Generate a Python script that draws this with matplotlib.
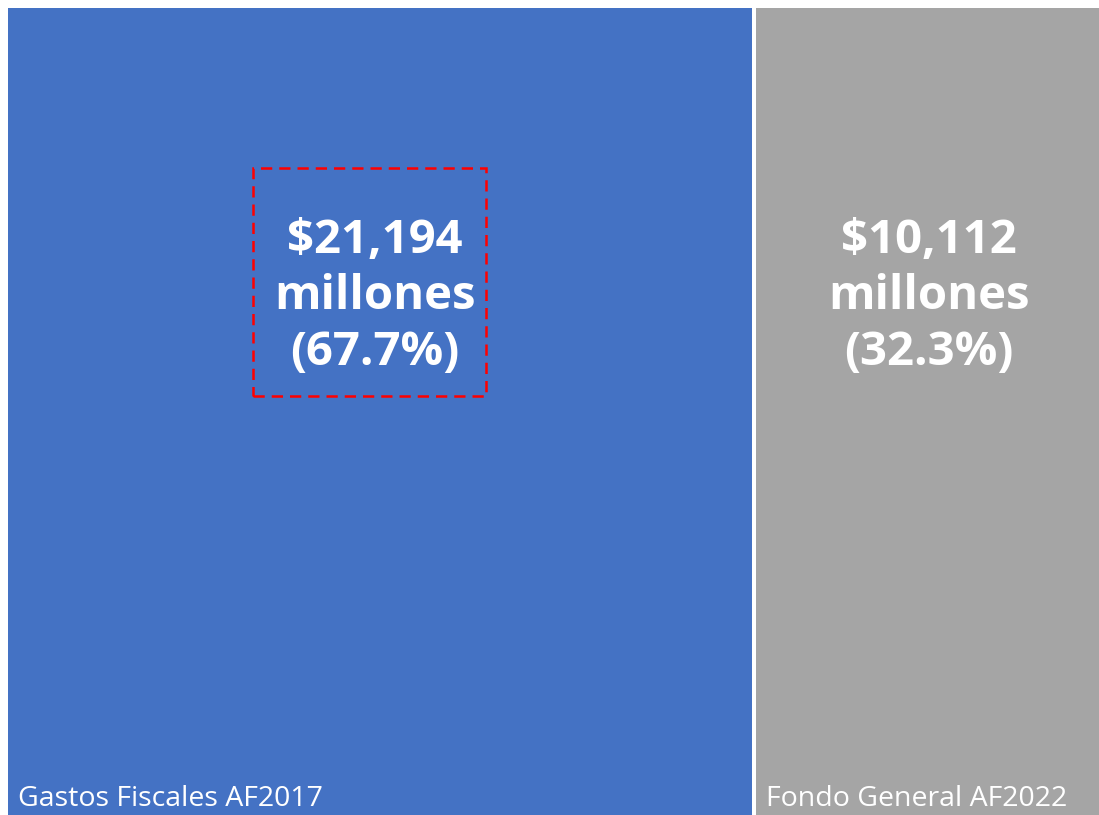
import matplotlib.pyplot as plt
from matplotlib.patches import Rectangle
from matplotlib.transforms import offset_copy

# datos del treemap
categorias = ['Gastos Fiscales AF2017', 'Fondo General AF2022']
valores = [21194, 10112]
colores = ['#4472C4', '#A5A5A5']

plt.rcParams['font.family'] = ['Open Sans', 'DejaVu Sans']

W, H = 1099, 815
fig = plt.figure(figsize=(W / 100, H / 100), dpi=100)
# el treemap sigue un poco mas alla del borde derecho
ax = fig.add_axes([8 / W, 0, 1103 / W, 1 - 8 / H])
total = sum(valores)
gap = total * 4 / 1099
ax.set_xlim(0, total + gap)
ax.set_ylim(0, 1)
ax.axis('off')

x0 = 0
for i, (cat, val, col) in enumerate(zip(categorias, valores, colores)):
    ax.add_patch(Rectangle((x0, 0), val, 1, facecolor=col, edgecolor='none'))
    pct = val / total * 100
    etiqueta = f'${val:,}\nmillones\n({pct:.1f}%)'
    tr = offset_copy(ax.transData, fig=fig, x=-5, y=0, units='dots')
    t = ax.text(x0 + val / 2, 0.642, etiqueta, ha='center', va='center', color='white',
                fontsize=34, fontweight='bold', linespacing=1.25, transform=tr)
    tr2 = offset_copy(ax.transData, fig=fig, x=10, y=0, units='dots')
    ax.text(x0, 0.003, cat, ha='left', va='bottom', color='white', fontsize=20.5, transform=tr2)
    if i == 0:
        # recuadro rojo punteado alrededor de la etiqueta
        fig.canvas.draw()
        cx, cy = ax.transData.transform((x0 + val / 2, 0.642))
        cx -= 5
        inv = ax.transData.inverted()
        (bx0, by0) = inv.transform((cx - 122, cy - 99))
        (bx1, by1) = inv.transform((cx + 111, cy + 129))
        ax.add_patch(Rectangle((bx0, by0), bx1 - bx0, by1 - by0, fill=False,
                               edgecolor='#FF0000', linestyle=(0, (4.5, 2.8)), linewidth=1.8))
    x0 += val + gap

fig.savefig('out.png', dpi=100)
